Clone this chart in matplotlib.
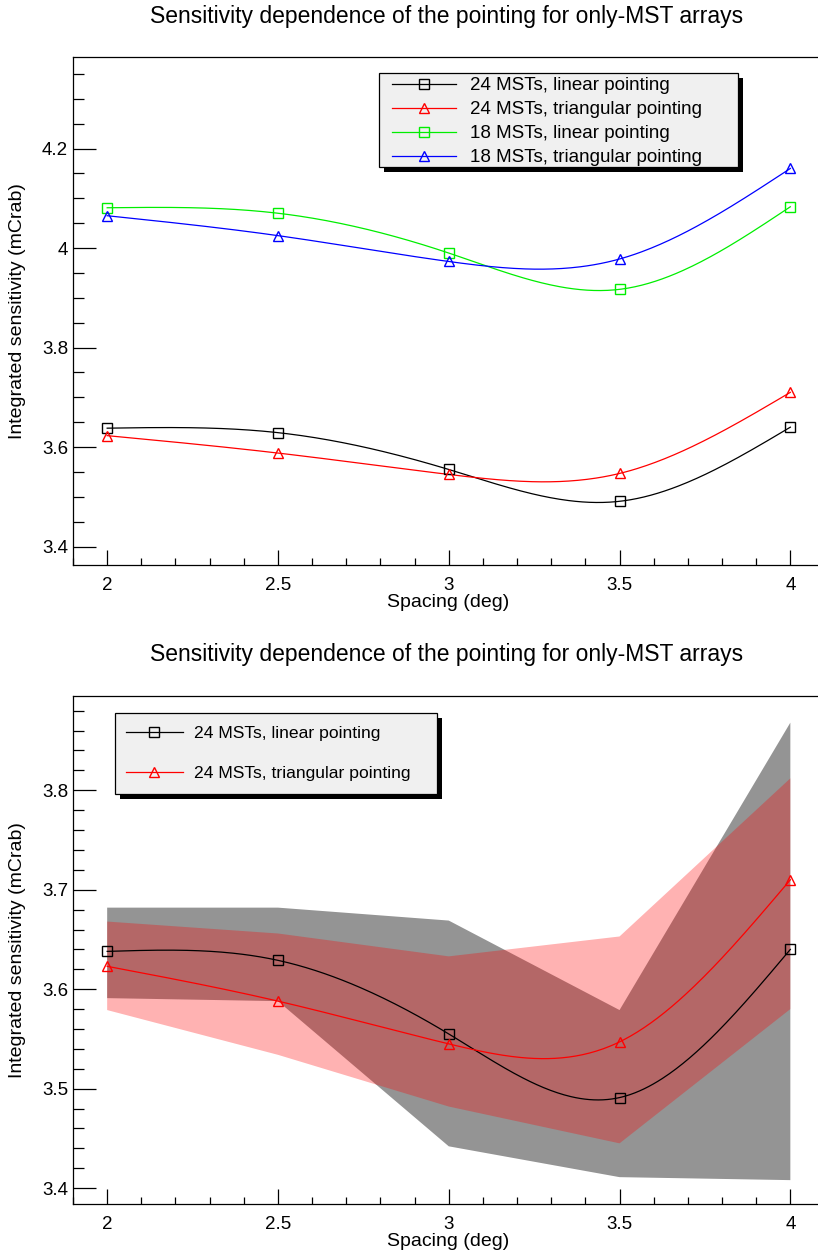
import numpy as np
import matplotlib
matplotlib.use("Agg")
import matplotlib.pyplot as plt
from matplotlib.ticker import MultipleLocator, FuncFormatter
from matplotlib.patches import Rectangle
from matplotlib.lines import Line2D

plt.rcParams['font.family'] = ['Liberation Sans', 'DejaVu Sans']

# ---------------- data ----------------
title = "Sensitivity dependence of the pointing for only-MST arrays"
xlabel = "Spacing (deg)"
ylabel = "Integrated sensitivity (mCrab)"

spacing = [2.0, 2.5, 3.0, 3.5, 4.0]

labels = ["24 MSTs, linear pointing", "24 MSTs, triangular pointing",
          "18 MSTs, linear pointing", "18 MSTs, triangular pointing"]
sens_24_linear = [3.638, 3.629, 3.555, 3.491, 3.640]
sens_24_triang = [3.623, 3.588, 3.545, 3.547, 3.710]
sens_18_linear = [4.081, 4.070, 3.990, 3.917, 4.083]
sens_18_triang = [4.065, 4.025, 3.973, 3.978, 4.160]

band_24_linear_lo = [3.591, 3.588, 3.442, 3.411, 3.408]
band_24_linear_hi = [3.682, 3.682, 3.669, 3.579, 3.868]
band_24_triang_lo = [3.579, 3.534, 3.482, 3.445, 3.580]
band_24_triang_hi = [3.668, 3.656, 3.633, 3.653, 3.812]

# ---------------- styles ----------------
colors = ["black", "#ff0000", "#00ee00", "#0000ff"]
markers = ["s", "^", "s", "^"]

W, H = 818, 1257
fig = plt.figure(figsize=(W / 100, H / 100), dpi=100)


def fx(x):
    return x / W


def fy(y):
    return 1 - y / H


def smooth_curve(x, y, n=300):
    """Natural cubic spline through the points (drawing helper, like ROOT 'C')."""
    x = np.asarray(x, float)
    y = np.asarray(y, float)
    m = len(x)
    h = np.diff(x)
    A = np.zeros((m, m))
    b = np.zeros(m)
    A[0, 0] = 1
    A[-1, -1] = 1
    for i in range(1, m - 1):
        A[i, i - 1] = h[i - 1]
        A[i, i] = 2 * (h[i - 1] + h[i])
        A[i, i + 1] = h[i]
        b[i] = 3 * ((y[i + 1] - y[i]) / h[i] - (y[i] - y[i - 1]) / h[i - 1])
    c = np.linalg.solve(A, b)
    xs = np.linspace(x[0], x[-1], n)
    idx = np.clip(np.searchsorted(x, xs, side='right') - 1, 0, m - 2)
    dx = xs - x[idx]
    bc = (y[1:] - y[:-1]) / h - h * (2 * c[:-1] + c[1:]) / 3
    d = (c[1:] - c[:-1]) / (3 * h)
    ys = y[idx] + bc[idx] * dx + c[idx] * dx ** 2 + d[idx] * dx ** 3
    return xs, ys


fmt = FuncFormatter(lambda v, p: "%g" % round(v, 3))


def style_axes(ax, ylim, ymajor, yminor):
    ax.set_xlim(1.9, 4.1)
    ax.set_ylim(*ylim)
    ax.xaxis.set_major_locator(MultipleLocator(0.5))
    ax.xaxis.set_minor_locator(MultipleLocator(0.1))
    ax.yaxis.set_major_locator(MultipleLocator(ymajor))
    ax.yaxis.set_minor_locator(MultipleLocator(yminor))
    ax.xaxis.set_major_formatter(fmt)
    ax.yaxis.set_major_formatter(fmt)
    ax.tick_params(which='both', direction='in', top=False, right=False,
                   width=0.9, labelsize=13.5, colors='black')
    ax.tick_params(axis='x', which='major', length=10.8, pad=8.5)
    ax.tick_params(axis='x', which='minor', length=5.4)
    ax.tick_params(axis='y', which='major', length=16.2, pad=3.5)
    ax.tick_params(axis='y', which='minor', length=8.1)
    ax.spines['right'].set_visible(False)
    for s in ['left', 'bottom', 'top']:
        ax.spines[s].set_linewidth(0.9)


def draw_legend(box, rows, line_x, marker_x, text_x, idxs, fontsize):
    x0, y0, x1, y1 = box
    fig.add_artist(Rectangle((fx(x0 + 5), fy(y1 + 5)), (x1 - x0) / W, (y1 - y0) / H,
                             transform=fig.transFigure, facecolor='black',
                             edgecolor='none', zorder=10))
    fig.add_artist(Rectangle((fx(x0), fy(y1)), (x1 - x0) / W, (y1 - y0) / H,
                             transform=fig.transFigure, facecolor='#f0f0f0',
                             edgecolor='black', lw=0.9, zorder=11))
    for r, i in zip(rows, idxs):
        fig.add_artist(Line2D([fx(line_x[0]), fx(line_x[1])], [fy(r), fy(r)],
                              transform=fig.transFigure, color=colors[i], lw=0.9, zorder=12))
        fig.add_artist(Line2D([fx(marker_x)], [fy(r)], transform=fig.transFigure,
                              ls='none', marker=markers[i], ms=7.2, mfc='none',
                              mec=colors[i], mew=1.0, zorder=13))
        fig.text(fx(text_x), fy(r), labels[i], fontsize=fontsize, ha='left',
                 va='center_baseline', zorder=13)


# ---------------- top panel ----------------
ax1 = fig.add_axes([fx(73), fy(565), (824.5 - 73) / W, (565 - 57) / H])
style_axes(ax1, (3.363, 4.384), 0.2, 0.05)
series_top = [sens_24_linear, sens_24_triang, sens_18_linear, sens_18_triang]
for i, vals in enumerate(series_top):
    xs, ys = smooth_curve(spacing, vals)
    ax1.plot(xs, ys, color=colors[i], lw=0.9, zorder=3)
    ax1.plot(spacing, vals, ls='none', marker=markers[i], ms=7.2, mfc='none',
             mec=colors[i], mew=1.0, zorder=4, clip_on=False)

fig.text(fx(447), fy(23), title, fontsize=16.5, ha='center', va='baseline')
fig.text(fx(448.5), fy(607), xlabel, fontsize=14, ha='center', va='baseline')
fig.text(fx(18), fy(311), ylabel, fontsize=14, ha='center', va='center', rotation=90)
draw_legend((379, 72.7, 738, 167.3), [83.5, 107.5, 132, 156], (392, 456), 424, 470,
            [0, 1, 2, 3], 13.5)

# ---------------- bottom panel ----------------
ax2 = fig.add_axes([fx(73), fy(1204.3), (824.5 - 73) / W, (1204.3 - 695.5) / H])
style_axes(ax2, (3.3837, 3.8953), 0.1, 0.02)
ax2.fill_between(spacing, band_24_linear_lo, band_24_linear_hi, facecolor='black',
                 alpha=0.42, lw=0, zorder=1)
ax2.fill_between(spacing, band_24_triang_lo, band_24_triang_hi, facecolor='#ff0000',
                 alpha=0.3, lw=0, zorder=2)
for i, vals in enumerate([sens_24_linear, sens_24_triang]):
    xs, ys = smooth_curve(spacing, vals)
    ax2.plot(xs, ys, color=colors[i], lw=0.9, zorder=3)
    ax2.plot(spacing, vals, ls='none', marker=markers[i], ms=7.2, mfc='none',
             mec=colors[i], mew=1.0, zorder=4, clip_on=False)

fig.text(fx(447), fy(661.5), title, fontsize=16.5, ha='center', va='baseline')
fig.text(fx(448.5), fy(1246.5), xlabel, fontsize=14, ha='center', va='baseline')
fig.text(fx(18), fy(950), ylabel, fontsize=14, ha='center', va='center', rotation=90)
draw_legend((115, 712.7, 436.7, 793.6), [731.7, 772.3], (125.7, 183.3), 154.3, 194.3,
            [0, 1], 12.6)

fig.savefig("out.png", dpi=100, facecolor='white')
